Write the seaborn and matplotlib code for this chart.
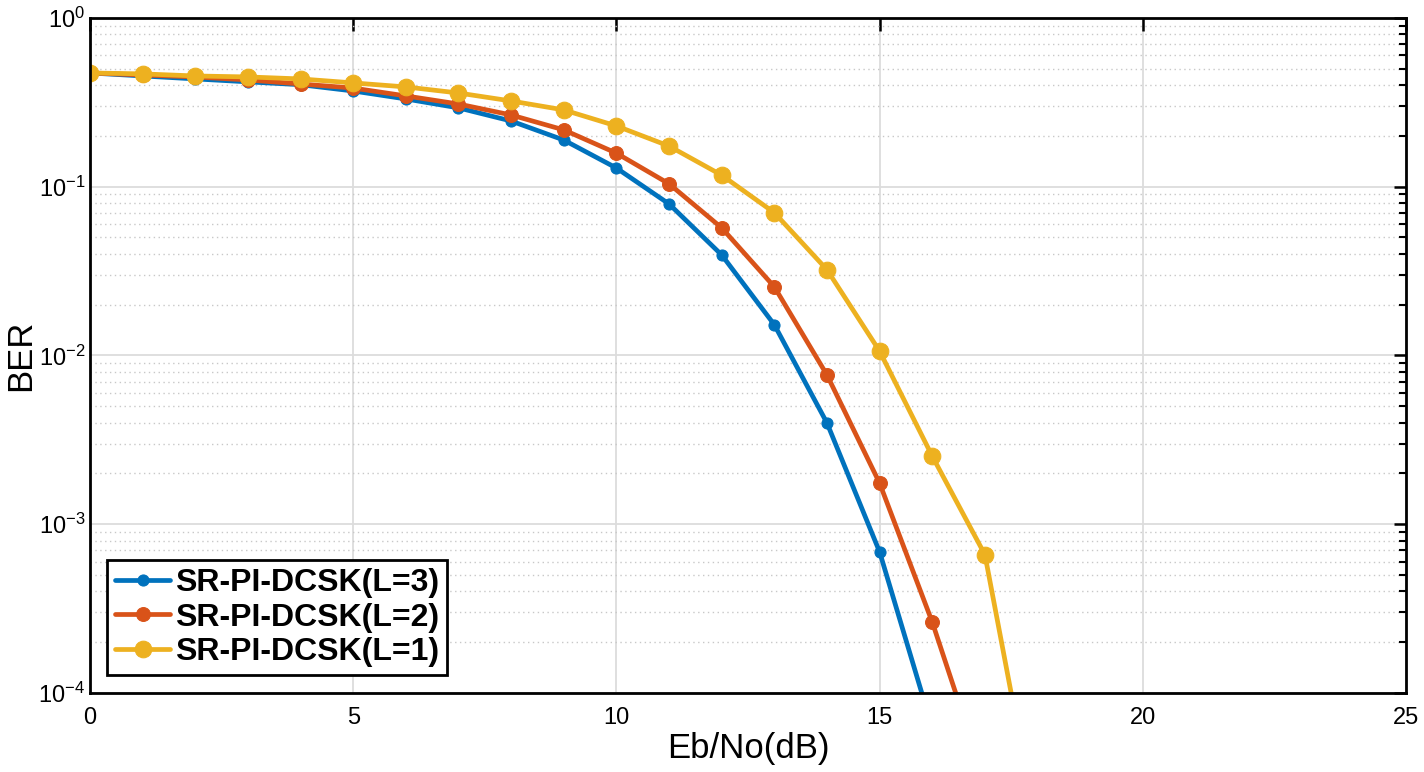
import matplotlib
matplotlib.use("Agg")
import matplotlib.pyplot as plt
import seaborn as sns
import pandas as pd
from matplotlib.ticker import LogLocator, NullFormatter

# Eb/No points (dB) and BER
snr = list(range(0, 19))
ber_l3 = [0.472, 0.453, 0.435, 0.418, 0.402, 0.369, 0.331, 0.293, 0.245, 0.189,
          0.129, 0.079, 0.0394, 0.0152, 0.00398, 6.85e-4, 6.2e-5]
ber_l2 = [0.472, 0.459, 0.447, 0.429, 0.406, 0.384, 0.345, 0.309, 0.266, 0.217,
          0.158, 0.104, 0.057, 0.0255, 0.00766, 1.75e-3, 2.63e-4, 3.0e-5]
ber_l1 = [0.472, 0.466, 0.453, 0.447, 0.435, 0.412, 0.390, 0.359, 0.322, 0.285,
          0.229, 0.174, 0.117, 0.0701, 0.0322, 0.0106, 2.53e-3, 6.6e-4, 1.5e-5]
labels = ["SR-PI-DCSK(L=3)", "SR-PI-DCSK(L=2)", "SR-PI-DCSK(L=1)"]

colors = ["#0072BD", "#D95319", "#EDB120"]
msizes = [8, 10, 12]

sns.set_style("white")
plt.rcParams['font.family'] = ['Liberation Sans', 'DejaVu Sans']
plt.rcParams['text.color'] = 'black'
plt.rcParams['axes.labelcolor'] = 'black'
plt.rcParams['axes.unicode_minus'] = False

fig = plt.figure(figsize=(14.24, 7.72), dpi=100)
ax = fig.add_axes([0.0632, 0.1023, 0.9242, 0.8745])

for bers, lab, col, ms in zip([ber_l3, ber_l2, ber_l1], labels, colors, msizes):
    df = pd.DataFrame({"snr": snr[:len(bers)], "ber": bers})
    sns.lineplot(data=df, x="snr", y="ber", ax=ax, color=col, linewidth=3.4,
                 marker="o", markersize=ms, markeredgecolor=col, label=lab)

ax.set_yscale("log")
ax.set_xlim(0, 25)
ax.set_ylim(1e-4, 1)
ax.set_xticks([0, 5, 10, 15, 20, 25])
ax.yaxis.set_major_locator(LogLocator(base=10, numticks=10))
ax.yaxis.set_minor_locator(LogLocator(base=10, subs=range(2, 10), numticks=20))
ax.yaxis.set_minor_formatter(NullFormatter())

ax.grid(True, which="major", color="#dcdcdc", linewidth=1.3, linestyle="-")
ax.grid(True, which="minor", axis="y", color="#c8c8c8", linewidth=1.0, linestyle=(0, (1, 2.5)))
ax.set_axisbelow(True)

for sp in ax.spines.values():
    sp.set_visible(True)
    sp.set_color("black")
    sp.set_linewidth(2.0)

ax.tick_params(which="both", direction="in", top=True, right=True, colors="black", labelsize=17)
ax.tick_params(which="major", length=9, width=1.8)
ax.tick_params(which="minor", length=5, width=1.5)
ax.tick_params(axis="x", pad=10)

ax.set_xlabel("Eb/No(dB)", fontsize=25, labelpad=2)
ax.set_ylabel("BER", fontsize=25)
ax.yaxis.set_label_coords(-0.040, 0.5)

leg = ax.legend(loc="lower left", bbox_to_anchor=(0.006, 0.012), fancybox=False,
                prop={"weight": "bold", "size": 23}, handlelength=1.7,
                handletextpad=0.15, borderpad=0.25, labelspacing=0.15,
                borderaxespad=0.3)
leg.get_frame().set_edgecolor("black")
leg.get_frame().set_linewidth(2.0)
leg.get_frame().set_alpha(1)
for t in leg.get_texts():
    t.set_color("black")

fig.savefig("out.png", dpi=100, facecolor="white")
